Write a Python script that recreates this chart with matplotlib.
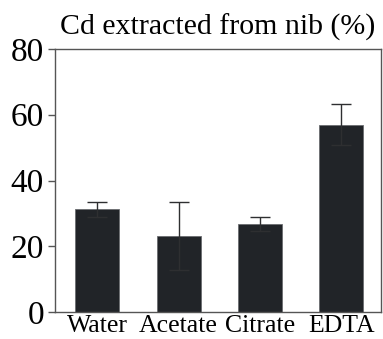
import matplotlib
matplotlib.use("Agg")
import matplotlib.pyplot as plt
import numpy as np

# extraction agents and measured Cd recovery (%)
agents = ["Water", "Acetate", "Citrate", "EDTA"]
cd_extracted = [31.3, 23.1, 26.7, 57.0]
cd_err = [2.3, 10.4, 2.2, 6.2]
y_ticks = [0, 20, 40, 60, 80]

plt.rcParams['font.family'] = ['Liberation Serif', 'DejaVu Serif']

fig = plt.figure(figsize=(3.83, 3.39), dpi=100)
ax = fig.add_axes([0.1436, 0.0796, 0.8512, 0.7759])

x = np.arange(len(agents))
ax.bar(x, cd_extracted, width=0.54, color="#212428", edgecolor="#6a6d70",
       linewidth=0.6, zorder=2)
ax.errorbar(x, cd_extracted, yerr=cd_err, fmt="none", ecolor="#2e2f31",
            elinewidth=1.0, capsize=7.5, capthick=1.0, zorder=3)

ax.set_xlim(-0.52, 3.49)
ax.set_ylim(0, 80)
ax.set_yticks(y_ticks)
ax.set_xticks(x)
ax.set_xticklabels(agents, fontsize=18.5)
ax.tick_params(axis="y", labelsize=24, length=5, width=1, color="#555555", pad=3)
ax.tick_params(axis="x", length=0, pad=2)

for s in ax.spines.values():
    s.set_color("#555555")
    s.set_linewidth(1.0)

ax.set_title("Cd extracted from nib (%)", fontsize=21.5, pad=10)

fig.savefig("out.png", dpi=100)
